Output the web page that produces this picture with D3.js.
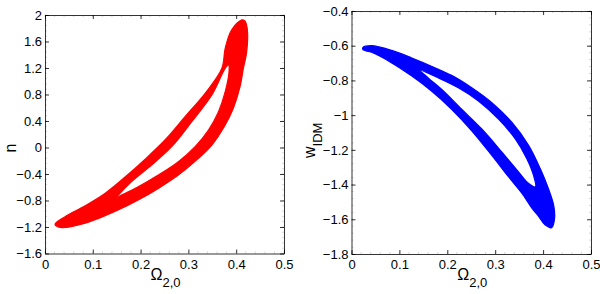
<!DOCTYPE html>
<html>
<head>
<meta charset="utf-8">
<script src="https://d3js.org/d3.v7.min.js"></script>
<style>
  body { margin: 0; background: #fff; }
  svg text { font-family: "Liberation Sans", Arial, sans-serif; fill: #000; }
</style>
</head>
<body>
<script>
// tick values
var omegaTicks = [0, 0.1, 0.2, 0.3, 0.4, 0.5];
var nTicks = [-1.6, -1.2, -0.8, -0.4, 0, 0.4, 0.8, 1.2, 1.6, 2];
var wTicks = [-1.8, -1.6, -1.4, -1.2, -1, -0.8, -0.6, -0.4];

// n vs Omega_2,0 : outline of the scattered loop (outer edge, then the hole)
var nOuter = [
  [0.021, -1.16], [0.042, -1.045], [0.084, -0.88], [0.126, -0.69], [0.167, -0.45],
  [0.209, -0.18], [0.251, 0.113], [0.293, 0.465], [0.335, 0.817], [0.37, 1.195],
  [0.377, 1.497], [0.39, 1.77], [0.411, 1.925], [0.418, 1.91], [0.423, 1.8],
  [0.422, 1.446], [0.415, 1.195], [0.408, 0.918], [0.394, 0.591], [0.377, 0.34],
  [0.349, 0.037], [0.321, -0.164], [0.279, -0.416], [0.237, -0.617], [0.195, -0.793],
  [0.153, -0.944], [0.112, -1.07], [0.07, -1.17], [0.035, -1.21]
];
var nHole = [
  [0.15, -0.758], [0.181, -0.516], [0.223, -0.265], [0.265, 0.012], [0.307, 0.39],
  [0.349, 0.792], [0.377, 1.195], [0.384, 1.245], [0.385, 1.144], [0.377, 0.842],
  [0.363, 0.54], [0.342, 0.264], [0.314, 0.012], [0.279, -0.214], [0.237, -0.416],
  [0.195, -0.592], [0.16, -0.718]
];

// w_IDM vs Omega_2,0
var wOuter = [
  [0.024, -0.61], [0.042, -0.6], [0.084, -0.627], [0.126, -0.671], [0.167, -0.718],
  [0.209, -0.771], [0.251, -0.842], [0.293, -0.928], [0.335, -1.042], [0.37, -1.175],
  [0.394, -1.308], [0.411, -1.423], [0.422, -1.518], [0.424, -1.594], [0.418, -1.648],
  [0.404, -1.632], [0.391, -1.585], [0.377, -1.537], [0.356, -1.451], [0.328, -1.356],
  [0.293, -1.232], [0.251, -1.09], [0.209, -0.966], [0.167, -0.861], [0.126, -0.775],
  [0.084, -0.699], [0.042, -0.638], [0.024, -0.623]
];
var wHole = [
  [0.143, -0.741], [0.181, -0.785], [0.223, -0.842], [0.265, -0.918], [0.307, -1.023],
  [0.342, -1.137], [0.366, -1.251], [0.38, -1.347], [0.384, -1.413], [0.37, -1.394],
  [0.349, -1.328], [0.314, -1.213], [0.272, -1.08], [0.23, -0.966], [0.188, -0.851],
  [0.16, -0.785]
];

var svg = d3.select("body").append("svg")
  .attr("width", 600)
  .attr("height", 294);

function panel(box, yDomain, yTicks, outer, hole, color) {
  var x = d3.scaleLinear().domain([0, 0.5]).range([box.left, box.right]);
  var y = d3.scaleLinear().domain(yDomain).range([box.bottom, box.top]);
  var g = svg.append("g");

  // the loop
  var line = d3.line()
    .x(function(d) { return x(d[0]); })
    .y(function(d) { return y(d[1]); })
    .curve(d3.curveCatmullRomClosed.alpha(0.5));
  g.append("path")
    .attr("d", line(outer) + line(hole))
    .attr("fill", color)
    .attr("fill-rule", "evenodd")
    .attr("stroke", color)
    .attr("stroke-width", 1.2)
    .attr("stroke-linejoin", "round");

  // minor ticks
  var xMinor = d3.range(0, 0.5001, 0.02);
  var yStep = (yTicks[1] - yTicks[0]) / 5;
  var yMinor = d3.range(yDomain[0], yDomain[1] + 1e-6, yStep);
  xMinor.forEach(function(v) {
    g.append("line").attr("x1", x(v)).attr("x2", x(v)).attr("y1", box.bottom).attr("y2", box.bottom - 2)
      .attr("stroke", "#bbb").attr("stroke-width", 0.6);
    g.append("line").attr("x1", x(v)).attr("x2", x(v)).attr("y1", box.top).attr("y2", box.top + 2)
      .attr("stroke", "#bbb").attr("stroke-width", 0.6);
  });
  yMinor.forEach(function(v) {
    g.append("line").attr("x1", box.left).attr("x2", box.left + 2).attr("y1", y(v)).attr("y2", y(v))
      .attr("stroke", "#bbb").attr("stroke-width", 0.6);
    g.append("line").attr("x1", box.right).attr("x2", box.right - 2).attr("y1", y(v)).attr("y2", y(v))
      .attr("stroke", "#bbb").attr("stroke-width", 0.6);
  });

  // axes, ticks inward on all four sides
  g.append("g")
    .attr("transform", "translate(0," + box.bottom + ")")
    .call(d3.axisBottom(x).tickValues(omegaTicks).tickSizeInner(-4).tickSizeOuter(0).tickPadding(6).tickFormat(d3.format("")));
  g.append("g")
    .attr("transform", "translate(0," + box.top + ")")
    .call(d3.axisTop(x).tickValues(omegaTicks).tickSizeInner(-4).tickSizeOuter(0).tickFormat(""));
  g.append("g")
    .attr("transform", "translate(" + box.left + ",0)")
    .call(d3.axisLeft(y).tickValues(yTicks).tickSizeInner(-4).tickSizeOuter(0).tickPadding(3).tickFormat(d3.format("")));
  g.append("g")
    .attr("transform", "translate(" + box.right + ",0)")
    .call(d3.axisRight(y).tickValues(yTicks).tickSizeInner(-4).tickSizeOuter(0).tickFormat(""));

  g.selectAll(".tick text").style("font-size", "13px");
  g.selectAll(".domain").attr("stroke", "#000").attr("stroke-width", 0.8);
  g.selectAll(".tick line").attr("stroke", "#000").attr("stroke-width", 0.8);

  // x label: Omega_2,0
  var xl = g.append("text")
    .attr("x", (box.left + box.right) / 2 - 14)
    .attr("y", 280)
    .style("font-size", "16px");
  xl.append("tspan").text("\u03A9");
  xl.append("tspan").attr("dy", 7).style("font-size", "13px").text("2,0");

  return g;
}

var left = panel({left: 45, right: 284, top: 15, bottom: 253.5}, [-1.6, 2], nTicks, nOuter, nHole, "#ff0000");
left.append("text")
  .attr("transform", "translate(16,148) rotate(-90)")
  .attr("text-anchor", "middle")
  .style("font-size", "16px")
  .text("n");

var right = panel({left: 351.5, right: 591, top: 11, bottom: 254}, [-1.8, -0.4], wTicks, wOuter, wHole, "#0000ff");
var wl = right.append("text")
  .attr("transform", "translate(315,158) rotate(-90)")
  .style("font-size", "16px");
wl.append("tspan").text("w");
wl.append("tspan").attr("dy", 7).style("font-size", "13px").text("IDM");
</script>
</body>
</html>
